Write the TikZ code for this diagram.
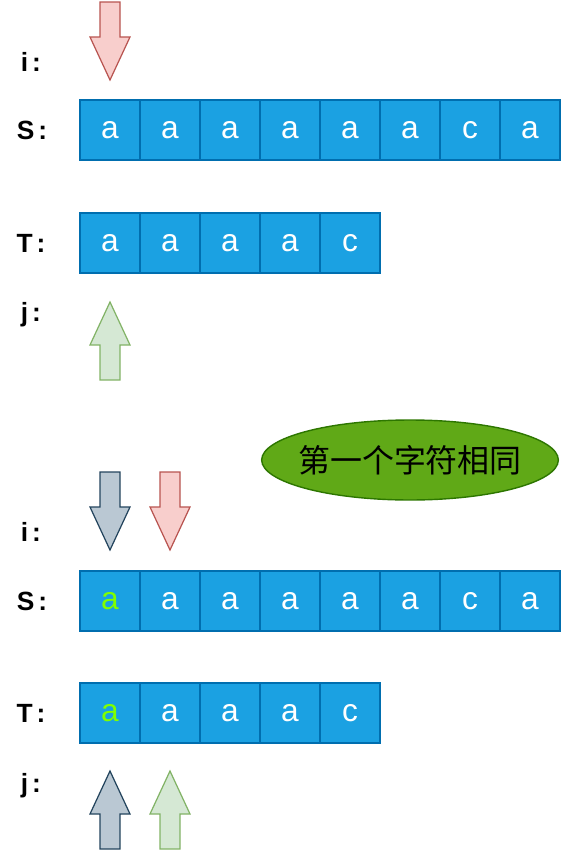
\documentclass[tikz,border=0pt]{standalone}
\usepackage{fontspec}
\setmainfont{Liberation Sans}
\newfontfamily\cjk{Noto Sans CJK SC}
\usepackage{xcolor}
\usetikzlibrary{shapes.geometric}
\definecolor{cellblue}{HTML}{1BA1E2}
\definecolor{cellline}{HTML}{006EAF}
\definecolor{redfill}{HTML}{F8CECC}
\definecolor{redline}{HTML}{B85450}
\definecolor{greenfill}{HTML}{D5E8D4}
\definecolor{greenline}{HTML}{82B366}
\definecolor{grayfill}{HTML}{BAC8D3}
\definecolor{grayline}{HTML}{23445D}
\definecolor{ovalfill}{HTML}{60A917}
\definecolor{ovalline}{HTML}{2D7600}
\definecolor{hit}{HTML}{80FF00}

% pointer arrows, tip at (#1,#2)
\newcommand{\downptr}[3]{\draw[#3] (#1,#2) -- ++(20,-43) -- ++(-10,0) -- ++(0,-35) -- ++(-20,0) -- ++(0,35) -- ++(-10,0) -- cycle;}
\newcommand{\upptr}[3]{\draw[#3] (#1,#2) -- ++(20,43) -- ++(-10,0) -- ++(0,35) -- ++(-20,0) -- ++(0,-35) -- ++(-10,0) -- cycle;}
\newcommand{\colsep}{\kern0.15em:}

\begin{document}
\begin{tikzpicture}[x=0.02cm, y=-0.02cm,
    cell/.style = {draw=cellline, fill=cellblue, line width=0.8pt, minimum size=1.2cm, inner sep=0pt, text=white, font=\fontsize{18}{18}\selectfont},
    lbl/.style = {font=\bfseries\fontsize{15}{15}\selectfont},
    redptr/.style = {draw=redline, fill=redfill, line width=0.7pt},
    greenptr/.style = {draw=greenline, fill=greenfill, line width=0.7pt},
    grayptr/.style = {draw=grayline, fill=grayfill, line width=0.7pt},
    oval/.style = {draw=ovalline, fill=ovalfill, ellipse, line width=0.8pt, minimum width=5.9cm, minimum height=1.6cm, inner xsep=-4pt, inner ysep=0pt, font=\cjk\fontsize{18.2}{18.2}\selectfont}]
    \useasboundingbox (0,0) rectangle (562,852);
    % before
    \node[lbl] (i1) at (31,62) {i\colsep};
    \node[lbl] (s1) at (32,130) {S\colsep};
    \node[lbl] (t1) at (31,243) {T\colsep};
    \node[lbl] (j1) at (31,315) {j\colsep};
    \foreach \ch [count=\k] in {a,a,a,a,a,a,c,a}
        \node[cell] (sa\k) at (50+60*\k,130) {\ch};
    \foreach \ch [count=\k] in {a,a,a,a,c}
        \node[cell] (ta\k) at (50+60*\k,243) {\ch};
    \downptr{110}{80}{redptr}
    \upptr{110}{302}{greenptr}
    % after
    \node[oval] (note) at (410,460) {第一个字符相同};
    \node[lbl] (i2) at (31,532) {i\colsep};
    \node[lbl] (s2) at (32,601) {S\colsep};
    \node[lbl] (t2) at (31,713) {T\colsep};
    \node[lbl] (j2) at (31,786) {j\colsep};
    \node[cell, text=hit] (sb1) at (110,601) {a};
    \foreach \ch [count=\k from 2] in {a,a,a,a,a,c,a}
        \node[cell] (sb\k) at (50+60*\k,601) {\ch};
    \node[cell, text=hit] (tb1) at (110,713) {a};
    \foreach \ch [count=\k from 2] in {a,a,a,c}
        \node[cell] (tb\k) at (50+60*\k,713) {\ch};
    \downptr{110}{550}{grayptr}
    \downptr{170}{550}{redptr}
    \upptr{110}{771}{grayptr}
    \upptr{170}{771}{greenptr}
\end{tikzpicture}
\end{document}
